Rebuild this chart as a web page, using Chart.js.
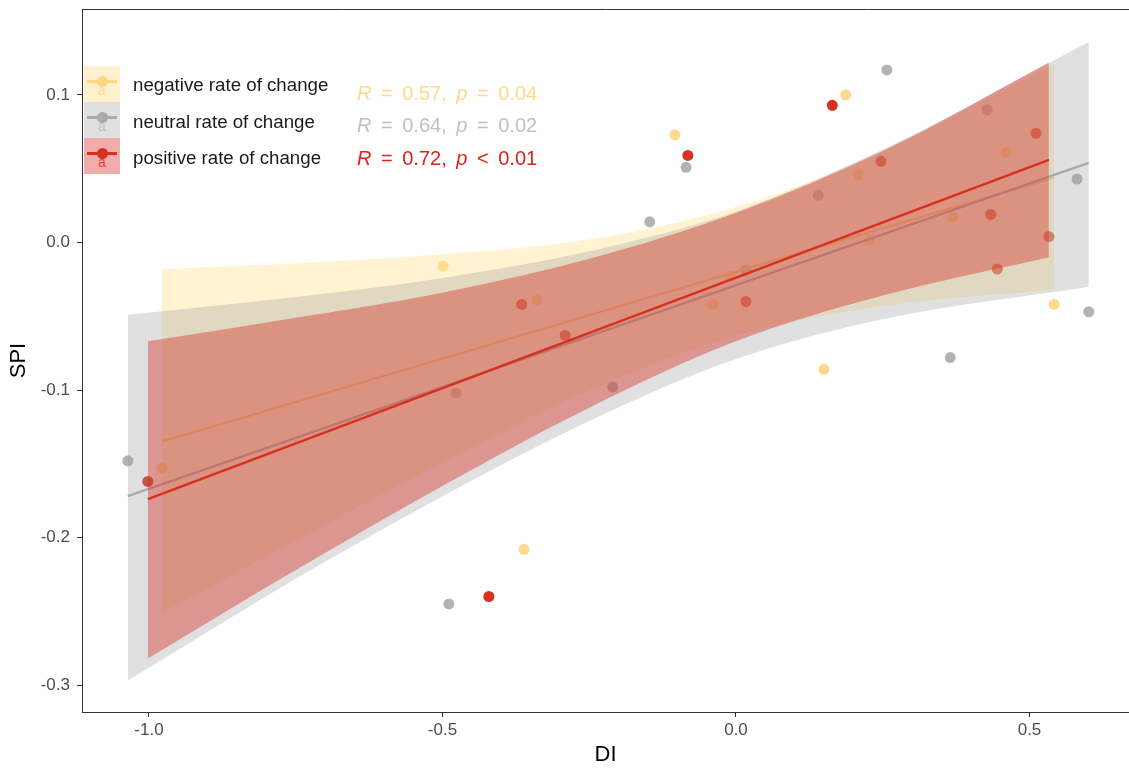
<!DOCTYPE html>
<html>
<head>
<meta charset="utf-8">
<script src="https://cdn.jsdelivr.net/npm/chart.js@4.4.1/dist/chart.umd.min.js"></script>
<style>
  html, body { margin: 0; padding: 0; background: #fff; }
  #wrap { position: relative; width: 1129px; height: 769px; font-family: 'Liberation Sans', Arial, sans-serif; }
  #chart { position: absolute; left: 0; top: 0; }
  .key { position: absolute; left: 84px; width: 36px; height: 36px; }
  .key .ln { position: absolute; left: 3px; width: 30px; top: 14px; height: 3px; }
  .key .pt { position: absolute; left: 13px; top: 10px; width: 11px; height: 11px; border-radius: 50%; }
  .key .a { position: absolute; left: 0; width: 36px; top: 16px; text-align: center; font-size: 14px; line-height: 16px; }
  .lab { position: absolute; left: 133px; font-size: 18.7px; color: #1a1a1a; line-height: 20px; white-space: nowrap; }
  .stat { position: absolute; left: 357px; font-size: 20px; line-height: 22px; word-spacing: 4px; white-space: nowrap; }
</style>
</head>
<body>
<div id="wrap">
  <canvas id="chart" width="1129" height="769"></canvas>

  <div class="key" style="top:66px;background:#fff1cf">
    <div class="a" style="color:#fddc9a">a</div>
    <div class="ln" style="background:#fdd87f"></div>
    <div class="pt" style="background:#fdd87f"></div>
  </div>
  <div class="key" style="top:102px;background:#e0e0e0">
    <div class="a" style="color:#c4c4c4">a</div>
    <div class="ln" style="background:#ababab"></div>
    <div class="pt" style="background:#ababab"></div>
  </div>
  <div class="key" style="top:138px;background:#f0abaa">
    <div class="a" style="color:#e0453a">a</div>
    <div class="ln" style="background:#d7301f"></div>
    <div class="pt" style="background:#d7301f"></div>
  </div>

  <div class="lab" style="top:75px">negative rate of change</div>
  <div class="lab" style="top:112px">neutral rate of change</div>
  <div class="lab" style="top:148px">positive rate of change</div>

  <div class="stat" style="top:82px;color:#fdd98b"><i>R</i> = 0.57, <i>p</i> = 0.04</div>
  <div class="stat" style="top:114px;color:#c0c0c0"><i>R</i> = 0.64, <i>p</i> = 0.02</div>
  <div class="stat" style="top:147px;color:#e0211d"><i>R</i> = 0.72, <i>p</i> &lt; 0.01</div>
</div>

<script>
  // axis ticks
  const xTicks = [-1.0, -0.5, 0.0, 0.5];
  const xTickLabels = ['-1.0', '-0.5', '0.0', '0.5'];
  const yTicks = [-0.3, -0.2, -0.1, 0.0, 0.1];
  const yTickLabels = ['-0.3', '-0.2', '-0.1', '0.0', '0.1'];

  // negative rate of change (yellow)
  const negX = [-0.978, -0.499, -0.361, -0.339, -0.104, -0.039, -0.010, 0.150, 0.187, 0.208, 0.228, 0.370, 0.460, 0.542];
  const negY = [-0.153, -0.016, -0.208, -0.039, 0.073, -0.042, -0.023, -0.086, 0.100, 0.046, 0.002, 0.017, 0.061, -0.042];
  const negLineX = [-0.978, 0.542];
  const negLineY = [-0.135, 0.044];
  const negBandX = [-0.978, -0.75, -0.5, -0.25, 0.0, 0.25, 0.542];
  const negBandHi = [-0.018, -0.014, -0.008, 0.002, 0.024, 0.062, 0.121];
  const negBandLo = [-0.251, -0.202, -0.149, -0.100, -0.063, -0.043, -0.032];

  // neutral rate of change (grey)
  const neuX = [-1.036, -0.489, -0.477, -0.210, -0.147, -0.085, 0.017, 0.140, 0.257, 0.365, 0.428, 0.581, 0.601];
  const neuY = [-0.148, -0.245, -0.102, -0.098, 0.014, 0.051, -0.019, 0.032, 0.117, -0.078, 0.090, 0.043, -0.047];
  const neuLineX = [-1.036, 0.601];
  const neuLineY = [-0.172, 0.054];
  const neuBandX = [-1.036, -0.75, -0.5, -0.25, 0.0, 0.25, 0.601];
  const neuBandHi = [-0.049, -0.037, -0.024, -0.006, 0.021, 0.063, 0.136];
  const neuBandLo = [-0.297, -0.228, -0.172, -0.121, -0.079, -0.052, -0.030];

  // positive rate of change (red)
  const posX = [-1.002, -0.421, -0.365, -0.291, -0.082, 0.017, 0.164, 0.247, 0.434, 0.445, 0.511, 0.533];
  const posY = [-0.162, -0.240, -0.042, -0.063, 0.059, -0.040, 0.093, 0.055, 0.019, -0.018, 0.074, 0.004];
  const posLineX = [-1.002, 0.533];
  const posLineY = [-0.174, 0.056];
  const posBandX = [-1.002, -0.75, -0.5, -0.25, 0.0, 0.25, 0.533];
  const posBandHi = [-0.067, -0.051, -0.034, -0.011, 0.020, 0.062, 0.122];
  const posBandLo = [-0.282, -0.222, -0.165, -0.112, -0.067, -0.036, -0.010];

  const pts = (xs, ys) => xs.map((x, i) => ({ x: x, y: ys[i] }));

  const lineSet = (xs, ys, color) => ({
    data: pts(xs, ys), showLine: true, borderColor: color, borderWidth: 2.3,
    pointRadius: 0, fill: false, tension: 0
  });
  const bandEdge = (xs, ys, fillColor, isLower) => ({
    data: pts(xs, ys), showLine: true, borderWidth: 0, borderColor: 'rgba(0,0,0,0)',
    pointRadius: 0, cubicInterpolationMode: 'monotone', backgroundColor: fillColor,
    fill: isLower ? '-1' : false
  });
  const pointSet = (xs, ys, color) => ({
    data: pts(xs, ys), pointRadius: 5.5, borderWidth: 0,
    backgroundColor: color, pointBackgroundColor: color
  });

  const frameTop = {
    id: 'frameTop',
    afterDraw(c) {
      const a = c.chartArea, ctx = c.ctx;
      ctx.save();
      ctx.strokeStyle = '#333';
      ctx.lineWidth = 1;
      ctx.beginPath();
      ctx.moveTo(a.left, a.top + 0.5);
      ctx.lineTo(a.right, a.top + 0.5);
      ctx.stroke();
      ctx.restore();
    }
  };

  // first dataset is drawn on top
  new Chart(document.getElementById('chart'), {
    type: 'scatter',
    data: {
      datasets: [
        lineSet(posLineX, posLineY, '#d7301f'),
        bandEdge(posBandX, posBandHi, 'rgba(215,48,39,0.42)', false),
        bandEdge(posBandX, posBandLo, 'rgba(215,48,39,0.42)', true),
        lineSet(neuLineX, neuLineY, '#ababab'),
        bandEdge(neuBandX, neuBandHi, 'rgba(160,160,160,0.32)', false),
        bandEdge(neuBandX, neuBandLo, 'rgba(160,160,160,0.32)', true),
        lineSet(negLineX, negLineY, '#fdd87f'),
        bandEdge(negBandX, negBandHi, 'rgba(254,224,139,0.4)', false),
        bandEdge(negBandX, negBandLo, 'rgba(254,224,139,0.4)', true),
        pointSet(posX, posY, '#d7301f'),
        pointSet(neuX, neuY, '#b3b3b3'),
        pointSet(negX, negY, '#fed98e')
      ]
    },
    options: {
      responsive: false,
      animation: false,
      events: [],
      devicePixelRatio: 1,
      layout: { autoPadding: false, padding: { top: 9, right: 0, left: 0, bottom: 0 } },
      plugins: {
        legend: { display: false },
        tooltip: { enabled: false }
      },
      scales: {
        x: {
          type: 'linear',
          min: -1.1141,
          max: 0.6695,
          afterBuildTicks: s => { s.ticks = xTicks.map(v => ({ value: v })); },
          afterFit: s => { s.height = 57; s.paddingLeft = 0; s.paddingRight = 0; },
          ticks: {
            callback: (v, i) => xTickLabels[i],
            color: '#4d4d4d',
            font: { family: 'Liberation Sans', size: 17 },
            padding: 3,
            maxRotation: 0
          },
          grid: { drawOnChartArea: false, tickLength: 5, color: '#333', lineWidth: 1 },
          border: { display: true, color: '#333', width: 1 },
          title: {
            display: true, text: 'DI', color: '#000',
            font: { family: 'Liberation Sans', size: 22 },
            padding: { top: 0, bottom: 1 }
          }
        },
        y: {
          type: 'linear',
          min: -0.3183,
          max: 0.1583,
          afterBuildTicks: s => { s.ticks = yTicks.map(v => ({ value: v })); },
          afterFit: s => { s.width = 82; s.paddingTop = 0; s.paddingBottom = 0; },
          ticks: {
            callback: (v, i) => yTickLabels[i],
            color: '#4d4d4d',
            font: { family: 'Liberation Sans', size: 17 },
            padding: 7
          },
          grid: { drawOnChartArea: false, tickLength: 5, color: '#333', lineWidth: 1 },
          border: { display: true, color: '#333', width: 1 },
          title: {
            display: true, text: 'SPI', color: '#000',
            font: { family: 'Liberation Sans', size: 22 },
            padding: { top: 6, bottom: 0 }
          }
        }
      }
    },
    plugins: [frameTop]
  });
</script>
</body>
</html>
